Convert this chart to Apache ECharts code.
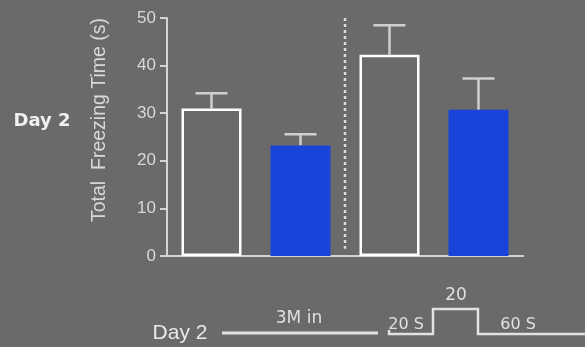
<!DOCTYPE html>
<html>
<head>
<meta charset="utf-8">
<script src="https://cdn.jsdelivr.net/npm/echarts@6/dist/echarts.min.js"></script>
<style>
  html, body { margin: 0; padding: 0; background: #6a6a6a; }
  #chart { width: 585px; height: 347px; }
</style>
</head>
<body>
<div id="chart"></div>
<script>
// Groups on the category axis (unlabelled in the figure)
const categories = ['Ctrl A', 'Treat A', 'Ctrl B', 'Treat B'];
// Mean total freezing time (s)
const meanValues = [31.0, 23.2, 42.3, 30.7];
// Upper end of the error bar (mean + SEM)
const errorTops = [34.2, 25.6, 48.5, 37.3];
// Open bars vs. filled bars
const filled = [false, true, false, true];
const yTicks = { min: 0, max: 50, interval: 10 };
const yTitle = 'Total  Freezing Time (s)';

const FONT = '"Liberation Sans", Arial, sans-serif';
const FONT2 = '"DejaVu Sans", Verdana, sans-serif';
const BLUE = '#1a44d9';
const LIGHT = '#d4d4d4';

const chart = echarts.init(document.getElementById('chart'), null, { renderer: 'canvas' });

const option = {
  backgroundColor: '#6a6a6a',
  animation: false,
  grid: { left: 167, right: 62, top: 18, bottom: 91 },
  xAxis: {
    type: 'category',
    data: categories,
    axisLine: { lineStyle: { color: LIGHT, width: 2 } },
    axisTick: { show: false },
    axisLabel: { show: false }
  },
  yAxis: {
    type: 'value',
    min: yTicks.min, max: yTicks.max, interval: yTicks.interval,
    axisLine: { show: true, lineStyle: { color: LIGHT, width: 2 } },
    axisTick: { show: true, length: 7, lineStyle: { color: LIGHT, width: 2 } },
    axisLabel: { color: '#d8d8d8', fontSize: 17, fontFamily: FONT, margin: 11 },
    splitLine: { show: false }
  },
  series: [
    {
      type: 'bar',
      barWidth: 60,
      data: meanValues.map((v, i) => ({
        value: v,
        itemStyle: filled[i]
          ? { color: BLUE, borderWidth: 0 }
          : { color: 'rgba(0,0,0,0)', borderColor: '#ffffff', borderWidth: 2.5 }
      })),
      z: 3
    },
    {
      type: 'custom',
      z: 2,
      data: meanValues.map((v, i) => [i, v, errorTops[i]]),
      renderItem: function (params, api) {
        const base = api.coord([api.value(0), api.value(1)]);
        const top = api.coord([api.value(0), api.value(2)]);
        const half = 16;
        return {
          type: 'group',
          children: [
            { type: 'line', shape: { x1: base[0], y1: base[1], x2: top[0], y2: top[1] },
              style: { stroke: '#cfcfcf', lineWidth: 2.5 } },
            { type: 'line', shape: { x1: top[0] - half, y1: top[1], x2: top[0] + half, y2: top[1] },
              style: { stroke: '#cfcfcf', lineWidth: 2.5 } }
          ]
        };
      }
    }
  ]
};
chart.setOption(option);

// Dotted divider between the two pairs of bars
const xMid = (chart.convertToPixel({ xAxisIndex: 0 }, categories[1]) +
              chart.convertToPixel({ xAxisIndex: 0 }, categories[2])) / 2;
const yTop = chart.convertToPixel({ yAxisIndex: 0 }, 50);
const yBot = chart.convertToPixel({ yAxisIndex: 0 }, 1.5);

const schemaColor = '#e2e2e2';
const txt = (x, y, text, extra) => Object.assign({
  type: 'text', x: x, y: y,
  style: Object.assign({ text: text, fill: '#e0e0e0', font: '16px ' + FONT2, align: 'center', verticalAlign: 'middle' }, extra || {})
});

chart.setOption({
  graphic: [
    { type: 'line', shape: { x1: xMid, y1: yTop, x2: xMid, y2: yBot },
      style: { stroke: '#dddddd', lineWidth: 2.5, lineDash: [3, 3] } },
    // Vertical axis title
    Object.assign(txt(100, 120, yTitle, { font: '19.5px ' + FONT, fill: '#d8d8d8' }), { rotation: Math.PI / 2 }),
    // Row label on the left
    txt(42, 121, 'Day 2', { font: 'bold 18px ' + FONT2, fill: '#f0f0f0' }),
    // Protocol timeline at the bottom
    txt(180, 333, 'Day 2', { font: '21px ' + FONT, fill: '#e8e8e8' }),
    { type: 'line', shape: { x1: 222, y1: 333, x2: 378, y2: 333 },
      style: { stroke: schemaColor, lineWidth: 3 } },
    txt(299, 319, '3M in', { font: '17px ' + FONT2 }),
    { type: 'polyline', shape: { points: [[389, 330], [389, 334], [433, 334], [433, 309], [478, 309], [478, 334], [585, 334]] },
      style: { stroke: schemaColor, lineWidth: 2.5, fill: null } },
    txt(406, 325, '20 S'),
    txt(456, 296, '20', { font: '17px ' + FONT2 }),
    txt(518, 325, '60 S')
  ]
});
</script>
</body>
</html>
